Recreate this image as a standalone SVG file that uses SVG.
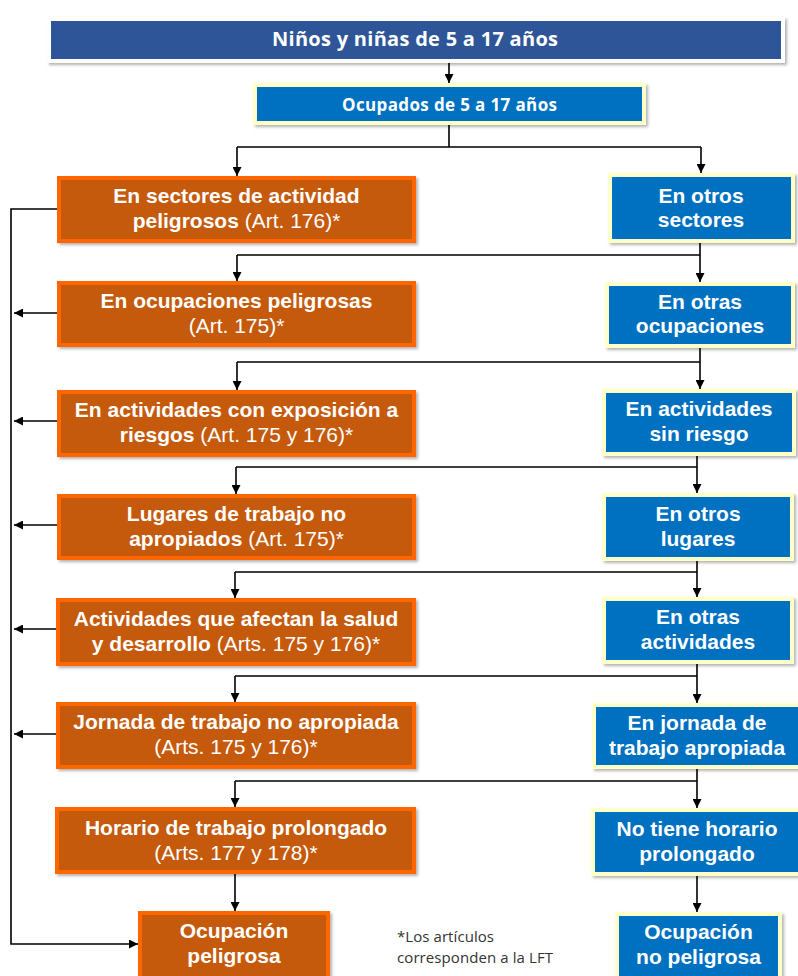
<svg xmlns="http://www.w3.org/2000/svg" width="798" height="976" viewBox="0 0 798 976">
<defs>
<filter id="sh" x="-10%" y="-20%" width="120%" height="150%">
<feDropShadow dx="2" dy="2" stdDeviation="1.5" flood-color="#000" flood-opacity="0.3"/>
</filter>
<marker id="ah" viewBox="0 0 10 10" refX="10" refY="5" markerWidth="9" markerHeight="9" markerUnits="userSpaceOnUse" orient="auto">
<path d="M0,0 L10,5 L0,10 z" fill="#000"/>
</marker>
</defs>
<style>
.or{fill:#C55A11;stroke:#FF6600;stroke-width:4;filter:url(#sh)}
.bl{fill:#0070C0;stroke:#FFFFC8;stroke-width:4;filter:url(#sh)}
.ti{fill:#2F5597;stroke:#FFFFFF;stroke-width:4;filter:url(#sh)}
.t{font-family:"Liberation Sans",Arial,sans-serif;font-size:21px;font-weight:bold;fill:#fff;text-anchor:middle}
.r{font-weight:normal}
.c{font-family:"Open Sans","Liberation Sans",sans-serif;font-weight:bold;fill:#fff;text-anchor:middle}
.fn{font-family:"Open Sans","Liberation Sans",sans-serif;font-size:15px;fill:#333}
.ln{fill:none;stroke:#000;stroke-width:1.6}
.ar{fill:none;stroke:#000;stroke-width:1.6;marker-end:url(#ah)}
</style>

<g id="connectors">
<path class="ar" d="M449,63 V83"/>
<path class="ln" d="M449,125 V147 M237,147 H701"/>
<path class="ar" d="M237,147 V176"/>
<path class="ar" d="M701,147 V173"/>
<path class="ln" d="M700,243 V255 M237,255 H700"/>
<path class="ar" d="M237,255 V281"/>
<path class="ar" d="M700,255 V282"/>
<path class="ln" d="M700,348 V362 M237,362 H700"/>
<path class="ar" d="M237,362 V390"/>
<path class="ar" d="M700,362 V389"/>
<path class="ln" d="M697,456 V467 M236,467 H697"/>
<path class="ar" d="M236,467 V494"/>
<path class="ar" d="M697,467 V493"/>
<path class="ln" d="M697,561 V572 M235,572 H697"/>
<path class="ar" d="M235,572 V598"/>
<path class="ar" d="M697,572 V597"/>
<path class="ln" d="M697,664 V676 M235,676 H697"/>
<path class="ar" d="M235,676 V702"/>
<path class="ar" d="M697,676 V703"/>
<path class="ln" d="M697,769 V781 M235,781 H697"/>
<path class="ar" d="M235,781 V807"/>
<path class="ar" d="M697,781 V808"/>
<path class="ar" d="M235,874 V911"/>
<path class="ar" d="M697,876 V912"/>
<path class="ar" d="M57,209 H11 V944 H138"/>
<path class="ar" d="M57,313 H14"/>
<path class="ar" d="M57,421 H14"/>
<path class="ar" d="M57,525 H14"/>
<path class="ar" d="M56,629 H14"/>
<path class="ar" d="M56,734 H14"/>
</g>

<g id="n-title">
<rect class="ti" x="49" y="19" width="734" height="42"/>
<text class="c" x="415" y="46" font-size="20" textLength="286">Niños y niñas de 5 a 17 años</text>
</g>
<g id="n-ocupados">
<rect class="bl" x="255" y="85" width="389" height="38"/>
<text class="c" x="449.5" y="111" font-size="17" textLength="215">Ocupados de 5 a 17 años</text>
</g>

<g id="n-o1">
<rect class="or" x="59" y="178" width="355" height="63"/>
<text class="t" x="236.5" y="203">En sectores de actividad</text>
<text class="t" x="236.5" y="228">peligrosos <tspan class="r">(Art. 176)*</tspan></text>
</g>
<g id="n-b1">
<rect class="bl" x="610" y="175" width="183" height="66"/>
<text class="t" x="701" y="203">En otros</text>
<text class="t" x="701" y="227">sectores</text>
</g>

<g id="n-o2">
<rect class="or" x="59" y="283" width="355" height="62"/>
<text class="t" x="236.5" y="308">En ocupaciones peligrosas</text>
<text class="t" x="236.5" y="333"><tspan class="r">(Art. 175)*</tspan></text>
</g>
<g id="n-b2">
<rect class="bl" x="607" y="284" width="186" height="62"/>
<text class="t" x="700" y="309">En otras</text>
<text class="t" x="700" y="333">ocupaciones</text>
</g>

<g id="n-o3">
<rect class="or" x="59" y="392" width="355" height="63"/>
<text class="t" x="236.5" y="417">En actividades con exposición a</text>
<text class="t" x="236.5" y="442">riesgos <tspan class="r">(Art. 175 y 176)*</tspan></text>
</g>
<g id="n-b3">
<rect class="bl" x="604" y="391" width="190" height="63"/>
<text class="t" x="699" y="416">En actividades</text>
<text class="t" x="699" y="441">sin riesgo</text>
</g>

<g id="n-o4">
<rect class="or" x="59" y="496" width="355" height="62"/>
<text class="t" x="236.5" y="521">Lugares de trabajo no</text>
<text class="t" x="236.5" y="546">apropiados <tspan class="r">(Art. 175)*</tspan></text>
</g>
<g id="n-b4">
<rect class="bl" x="604" y="495" width="188" height="64"/>
<text class="t" x="698" y="521">En otros</text>
<text class="t" x="698" y="546">lugares</text>
</g>

<g id="n-o5">
<rect class="or" x="58" y="600" width="356" height="64"/>
<text class="t" x="236" y="626">Actividades que afectan la salud</text>
<text class="t" x="236" y="651">y desarrollo <tspan class="r">(Arts. 175 y 176)*</tspan></text>
</g>
<g id="n-b5">
<rect class="bl" x="604" y="599" width="188" height="63"/>
<text class="t" x="698" y="624">En otras</text>
<text class="t" x="698" y="649">actividades</text>
</g>

<g id="n-o6">
<rect class="or" x="58" y="704" width="356" height="63"/>
<text class="t" x="236" y="729">Jornada de trabajo no apropiada</text>
<text class="t" x="236" y="754"><tspan class="r">(Arts. 175 y 176)*</tspan></text>
</g>
<g id="n-b6">
<rect class="bl" x="594" y="705" width="210" height="62"/>
<text class="t" x="697" y="730">En jornada de</text>
<text class="t" x="697" y="755">trabajo apropiada</text>
</g>

<g id="n-o7">
<rect class="or" x="57" y="809" width="357" height="63"/>
<text class="t" x="236" y="835">Horario de trabajo prolongado</text>
<text class="t" x="236" y="860"><tspan class="r">(Arts. 177 y 178)*</tspan></text>
</g>
<g id="n-b7">
<rect class="bl" x="593" y="810" width="210" height="64"/>
<text class="t" x="697" y="836">No tiene horario</text>
<text class="t" x="697" y="861">prolongado</text>
</g>

<g id="n-o8">
<rect class="or" x="140" y="913" width="188" height="70"/>
<text class="t" x="234" y="938">Ocupación</text>
<text class="t" x="234" y="963">peligrosa</text>
</g>
<g id="n-b8">
<rect class="bl" x="617" y="914" width="163" height="70"/>
<text class="t" x="698.5" y="939">Ocupación</text>
<text class="t" x="698.5" y="964">no peligrosa</text>
</g>

<g id="footnote">
<text class="fn" x="397" y="942" textLength="97">*Los artículos</text>
<text class="fn" x="397" y="963" textLength="156">corresponden a la LFT</text>
</g>
</svg>
